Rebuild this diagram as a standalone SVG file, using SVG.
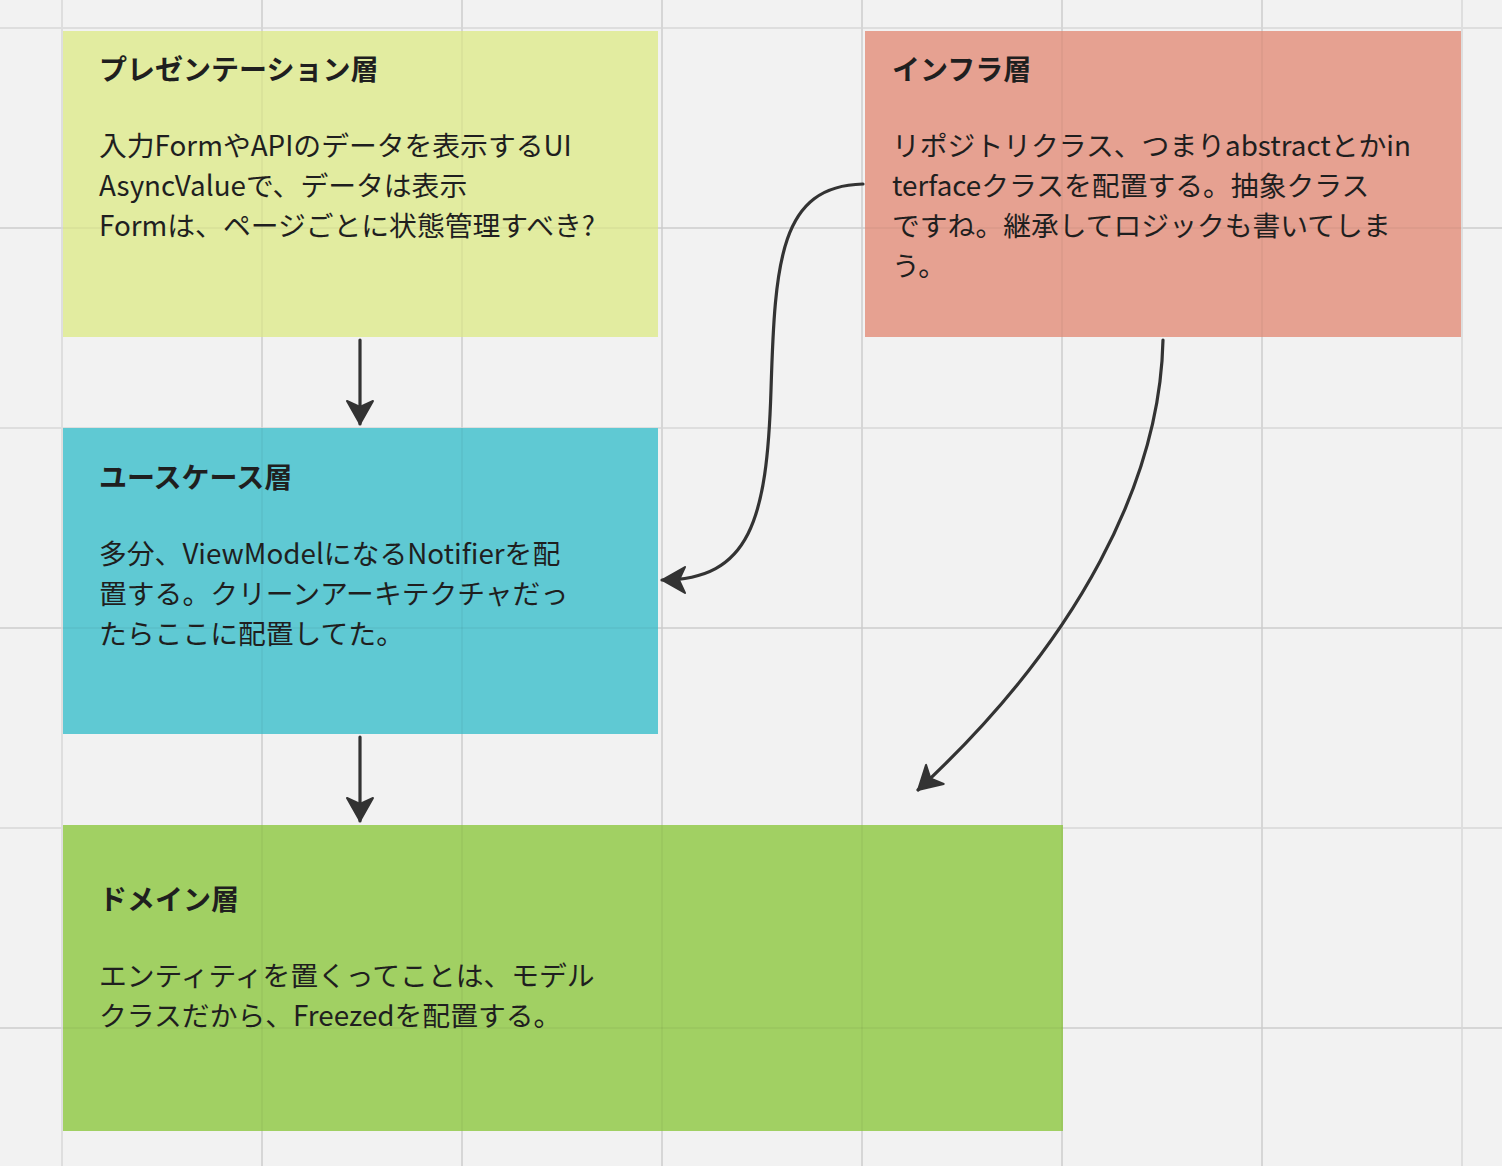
<svg xmlns="http://www.w3.org/2000/svg" width="1502" height="1166" viewBox="0 0 1502 1166">
<style>
.grid line{stroke:#dedede;stroke-width:2}
.gridover line{stroke:#000;stroke-opacity:0.035;stroke-width:2}
.title{font-family:"Noto Sans CJK JP","Noto Sans",sans-serif;font-size:28px;font-weight:700;fill:#1f1f1f}
.body{font-family:"Noto Sans CJK JP","Noto Sans",sans-serif;font-size:27.8px;font-weight:400;fill:#1f1f1f}
.conn path{fill:none;stroke:#333;stroke-width:3.2;stroke-linecap:round}
</style>
<defs>
<marker id="ah" markerUnits="userSpaceOnUse" markerWidth="40" markerHeight="40" refX="0" refY="0" viewBox="-30 -20 40 40" orient="auto">
<path d="M0,0 L-23,-13 L-17,0 L-23,13 Z" fill="#333" stroke="#333" stroke-width="2" stroke-linejoin="round"/>
</marker>
</defs>
<rect x="0" y="0" width="1502" height="1166" fill="#f2f2f2"/>
<g class="grid">
<line x1="62" y1="0" x2="62" y2="1166"/><line x1="262" y1="0" x2="262" y2="1166"/><line x1="462" y1="0" x2="462" y2="1166"/><line x1="662" y1="0" x2="662" y2="1166"/><line x1="862" y1="0" x2="862" y2="1166"/><line x1="1062" y1="0" x2="1062" y2="1166"/><line x1="1262" y1="0" x2="1262" y2="1166"/><line x1="1462" y1="0" x2="1462" y2="1166"/>
<line x1="0" y1="28" x2="1502" y2="28"/><line x1="0" y1="228" x2="1502" y2="228"/><line x1="0" y1="428" x2="1502" y2="428"/><line x1="0" y1="628" x2="1502" y2="628"/><line x1="0" y1="828" x2="1502" y2="828"/><line x1="0" y1="1028" x2="1502" y2="1028"/>
</g>
<g id="presentation">
<rect x="63" y="31" width="595" height="306" fill="#e2eca0"/>
</g>
<g id="infra">
<rect x="865" y="31" width="596" height="306" fill="#e6a191"/>
</g>
<g id="usecase">
<rect x="63" y="428" width="595" height="306" fill="#5fc9d3"/>
</g>
<g id="domain">
<rect x="63" y="825" width="1000" height="306" fill="#a1d063"/>
</g>
<g class="gridover">
<line x1="262" y1="0" x2="262" y2="1166"/><line x1="462" y1="0" x2="462" y2="1166"/><line x1="662" y1="0" x2="662" y2="1166"/><line x1="862" y1="0" x2="862" y2="1166"/><line x1="1062" y1="0" x2="1062" y2="1166"/><line x1="1262" y1="0" x2="1262" y2="1166"/>
<line x1="0" y1="228" x2="1502" y2="228"/><line x1="0" y1="628" x2="1502" y2="628"/><line x1="0" y1="1028" x2="1502" y2="1028"/>
</g>
<g id="presentation-text">
<text class="title" x="99" y="80">プレゼンテーション層</text>
<text class="body" x="99" y="156">入力FormやAPIのデータを表示するUI</text>
<text class="body" x="99" y="196">AsyncValueで、データは表示</text>
<text class="body" x="99" y="236">Formは、ページごとに状態管理すべき?</text>
</g>
<g id="infra-text">
<text class="title" x="892" y="80">インフラ層</text>
<text class="body" x="892" y="156">リポジトリクラス、つまりabstractとかin</text>
<text class="body" x="892" y="196">terfaceクラスを配置する。抽象クラス</text>
<text class="body" x="892" y="236">ですね。継承してロジックも書いてしま</text>
<text class="body" x="892" y="276">う。</text>
</g>
<g id="usecase-text">
<text class="title" x="99" y="488">ユースケース層</text>
<text class="body" x="99" y="564">多分、ViewModelになるNotifierを配</text>
<text class="body" x="99" y="604">置する。クリーンアーキテクチャだっ</text>
<text class="body" x="99" y="644">たらここに配置してた。</text>
</g>
<g id="domain-text">
<text class="title" x="99" y="910">ドメイン層</text>
<text class="body" x="99" y="986">エンティティを置くってことは、モデル</text>
<text class="body" x="99" y="1026">クラスだから、Freezedを配置する。</text>
</g>
<g class="conn" id="connectors">
<path d="M360,340 L360,424" marker-end="url(#ah)"/>
<path d="M360,737 L360,821" marker-end="url(#ah)"/>
<path d="M863,184 C780,186 775,260 771,390 C767,520 750,580 662,580" marker-end="url(#ah)"/>
<path d="M1163,340 C1160,480 1080,640 918,790" marker-end="url(#ah)"/>
</g>
</svg>
